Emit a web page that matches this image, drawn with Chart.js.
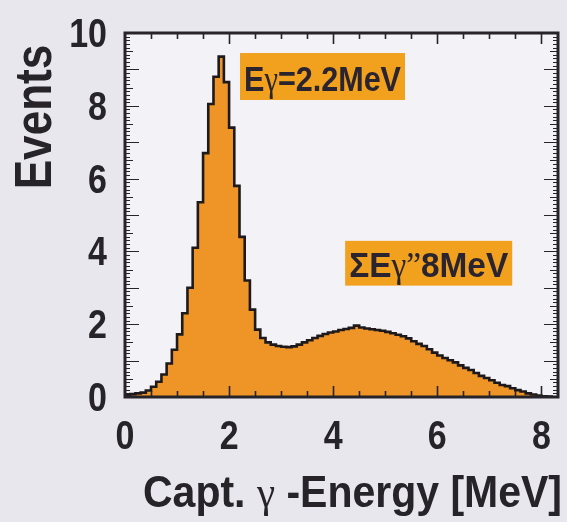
<!DOCTYPE html>
<html>
<head>
<meta charset="utf-8">
<script src="https://cdn.jsdelivr.net/npm/chart.js@4.4.1/dist/chart.umd.min.js"></script>
<style>
  html, body { margin: 0; padding: 0; background: #E8E7EE; }
  canvas { display: block; }
</style>
</head>
<body>
<canvas id="c" width="567" height="522"></canvas>
<script>
// Captured gamma energy spectrum, 0.1 MeV bins starting at 0 MeV
const binWidth = 0.1;
const counts = [
  0.05, 0.08, 0.10, 0.12, 0.18, 0.28, 0.42, 0.62, 0.92, 1.30,
  1.72, 2.30, 3.00, 4.10, 5.35, 6.70, 8.05, 8.80, 9.35, 8.65,
  7.40, 5.80, 4.40, 3.20, 2.40, 1.85, 1.62, 1.50, 1.44, 1.40,
  1.38, 1.37, 1.39, 1.44, 1.50, 1.56, 1.62, 1.68, 1.73, 1.77,
  1.80, 1.84, 1.87, 1.90, 1.96, 1.91, 1.88, 1.86, 1.84, 1.82,
  1.79, 1.75, 1.71, 1.67, 1.61, 1.53, 1.46, 1.40, 1.31, 1.22,
  1.14, 1.07, 1.01, 0.95, 0.87, 0.80, 0.74, 0.66, 0.58, 0.52,
  0.46, 0.39, 0.33, 0.30, 0.24, 0.19, 0.15, 0.10, 0.07, 0.04,
  0.02, 0.01
];
const xTickLabels = [0, 2, 4, 6, 8];
const yTickLabels = [0, 2, 4, 6, 8, 10];

// Text boxes placed in data coordinates (MeV, events)
const notes = [
  { parts: [['E', 'b'], ['γ', 's'], ['=2.2MeV', 'b']], x0: 2.21, x1: 5.38, y0: 8.16, y1: 9.45 },
  { parts: [['ΣE', 'b'], ['γ', 's'], ['”', 's'], ['8MeV', 'b']], x0: 4.23, x1: 7.44, y0: 3.06, y1: 4.29 }
];

// Step outline: each point is a bin's left edge; the last point closes the final bin
const points = counts.map((c, i) => ({ x: i * binWidth, y: c }));
points.push({ x: counts.length * binWidth, y: 0 });

const INK = '#262329';
const SANS = '"Liberation Sans", Arial, sans-serif';
const SERIF = '"Liberation Serif", "DejaVu Serif", serif';
const LABEL_FONT = 'bold 40px ' + SANS;
const SQUEEZE = 0.85;

function richWidth(ctx, parts, size) {
  let w = 0;
  parts.forEach(([t, k]) => {
    ctx.font = (k === 'b' ? 'bold ' : '') + size + 'px ' + (k === 'b' ? SANS : SERIF);
    w += ctx.measureText(t).width;
  });
  return w;
}
function richDraw(ctx, parts, size, x, y) {
  let cx = x;
  parts.forEach(([t, k]) => {
    ctx.font = (k === 'b' ? 'bold ' : '') + size + 'px ' + (k === 'b' ? SANS : SERIF);
    ctx.fillText(t, cx, y);
    cx += ctx.measureText(t).width;
  });
}
// draws rich text squeezed to a given width, starting at x
function richFit(ctx, parts, size, x, y, width) {
  const w = richWidth(ctx, parts, size);
  ctx.save();
  ctx.translate(x, y);
  ctx.scale(width / w, 1);
  richDraw(ctx, parts, size, 0, 0);
  ctx.restore();
}
// condensed single-line label
function squeezed(ctx, text, x, y, align) {
  ctx.save();
  ctx.translate(x, y);
  ctx.scale(SQUEEZE, 1);
  ctx.font = LABEL_FONT;
  ctx.textAlign = align;
  ctx.fillText(text, 0, 0);
  ctx.restore();
}

const frame = {
  id: 'frame',
  beforeDraw(chart) {
    const { ctx, chartArea: a } = chart;
    ctx.save();
    ctx.fillStyle = '#E8E7EE';
    ctx.fillRect(0, 0, chart.width, chart.height);
    ctx.fillStyle = '#F3F2F6';
    ctx.fillRect(a.left, a.top, a.right - a.left, a.bottom - a.top);
    ctx.restore();
  },
  afterDatasetsDraw(chart) {
    const { ctx, chartArea: a, scales } = chart;
    const xs = scales.x, ys = scales.y;
    ctx.save();
    ctx.strokeStyle = INK;
    ctx.lineWidth = 1.6;
    ctx.beginPath();
    // x ticks every 0.5 MeV, longer at labelled values
    for (let k = 1; k * 0.5 < xs.max; k++) {
      const v = k * 0.5;
      const px = Math.round(xs.getPixelForValue(v)) + 0.5;
      const len = (k % 4 === 0) ? 11 : 6;
      ctx.moveTo(px, a.bottom); ctx.lineTo(px, a.bottom - len);
      ctx.moveTo(px, a.top); ctx.lineTo(px, a.top + len);
    }
    ctx.stroke();
    // y ticks every 0.1, longer at whole numbers
    ctx.lineWidth = 1.2;
    ctx.beginPath();
    for (let k = 1; k < 100; k++) {
      const v = k / 10;
      const py = Math.round(ys.getPixelForValue(v)) + 0.5;
      const len = (k % 10 === 0) ? 14 : (k % 5 === 0 ? 8 : 5);
      ctx.moveTo(a.left, py); ctx.lineTo(a.left + len, py);
      ctx.moveTo(a.right, py); ctx.lineTo(a.right - len, py);
    }
    ctx.stroke();
    ctx.lineWidth = 3;
    ctx.strokeRect(a.left, a.top, a.right - a.left, a.bottom - a.top);
    ctx.restore();
  },
  afterDraw(chart) {
    const { ctx, chartArea: a, scales } = chart;
    const xs = scales.x, ys = scales.y;
    ctx.save();
    ctx.textBaseline = 'alphabetic';
    ctx.fillStyle = INK;
    // tick labels
    yTickLabels.forEach(v => squeezed(ctx, String(v), a.left - 18, ys.getPixelForValue(v) + 14, 'right'));
    xTickLabels.forEach(v => squeezed(ctx, String(v), xs.getPixelForValue(v), a.bottom + 52, 'center'));
    // labelled boxes
    notes.forEach(n => {
      const L = xs.getPixelForValue(n.x0), R = xs.getPixelForValue(n.x1);
      const T = ys.getPixelForValue(n.y1), B = ys.getPixelForValue(n.y0);
      ctx.fillStyle = '#F1A11E';
      ctx.fillRect(L, T, R - L, B - T);
      ctx.fillStyle = '#2a2430';
      richFit(ctx, n.parts, 35, L + 4, B - 9, R - L - 8);
    });
    // x-axis title
    ctx.fillStyle = INK;
    richFit(ctx, [['Capt. ', 'b'], ['γ', 's'], [' -Energy [MeV]', 'b']], 45, 143, 507, 419);
    // y-axis title
    ctx.save();
    ctx.translate(33, 117);
    ctx.rotate(-Math.PI / 2);
    ctx.scale(0.98, 1.15);
    ctx.font = 'bold 45px ' + SANS;
    ctx.textAlign = 'center';
    ctx.fillText('Events', 0, 16);
    ctx.restore();
    ctx.restore();
  }
};

new Chart(document.getElementById('c'), {
  type: 'line',
  data: {
    datasets: [{
      data: points,
      stepped: true,
      fill: 'origin',
      backgroundColor: '#EF9426',
      borderColor: '#1E1A1C',
      borderWidth: 2.6,
      pointRadius: 0,
      tension: 0
    }]
  },
  options: {
    responsive: false,
    devicePixelRatio: 1,
    animation: false,
    layout: { padding: { top: 33, right: 9, left: 0, bottom: 0 } },
    plugins: { legend: { display: false }, tooltip: { enabled: false } },
    scales: {
      x: {
        type: 'linear',
        min: 0,
        max: 8.32,
        afterFit(s) { s.height = 125; },
        afterBuildTicks(s) { s.ticks = xTickLabels.map(v => ({ value: v })); },
        grid: { display: false, drawTicks: false },
        border: { display: false },
        ticks: { display: false }
      },
      y: {
        min: 0,
        max: 10,
        afterFit(s) { s.width = 125; },
        afterBuildTicks(s) { s.ticks = yTickLabels.map(v => ({ value: v })); },
        grid: { display: false, drawTicks: false },
        border: { display: false },
        ticks: { display: false }
      }
    }
  },
  plugins: [frame]
});
</script>
</body>
</html>
